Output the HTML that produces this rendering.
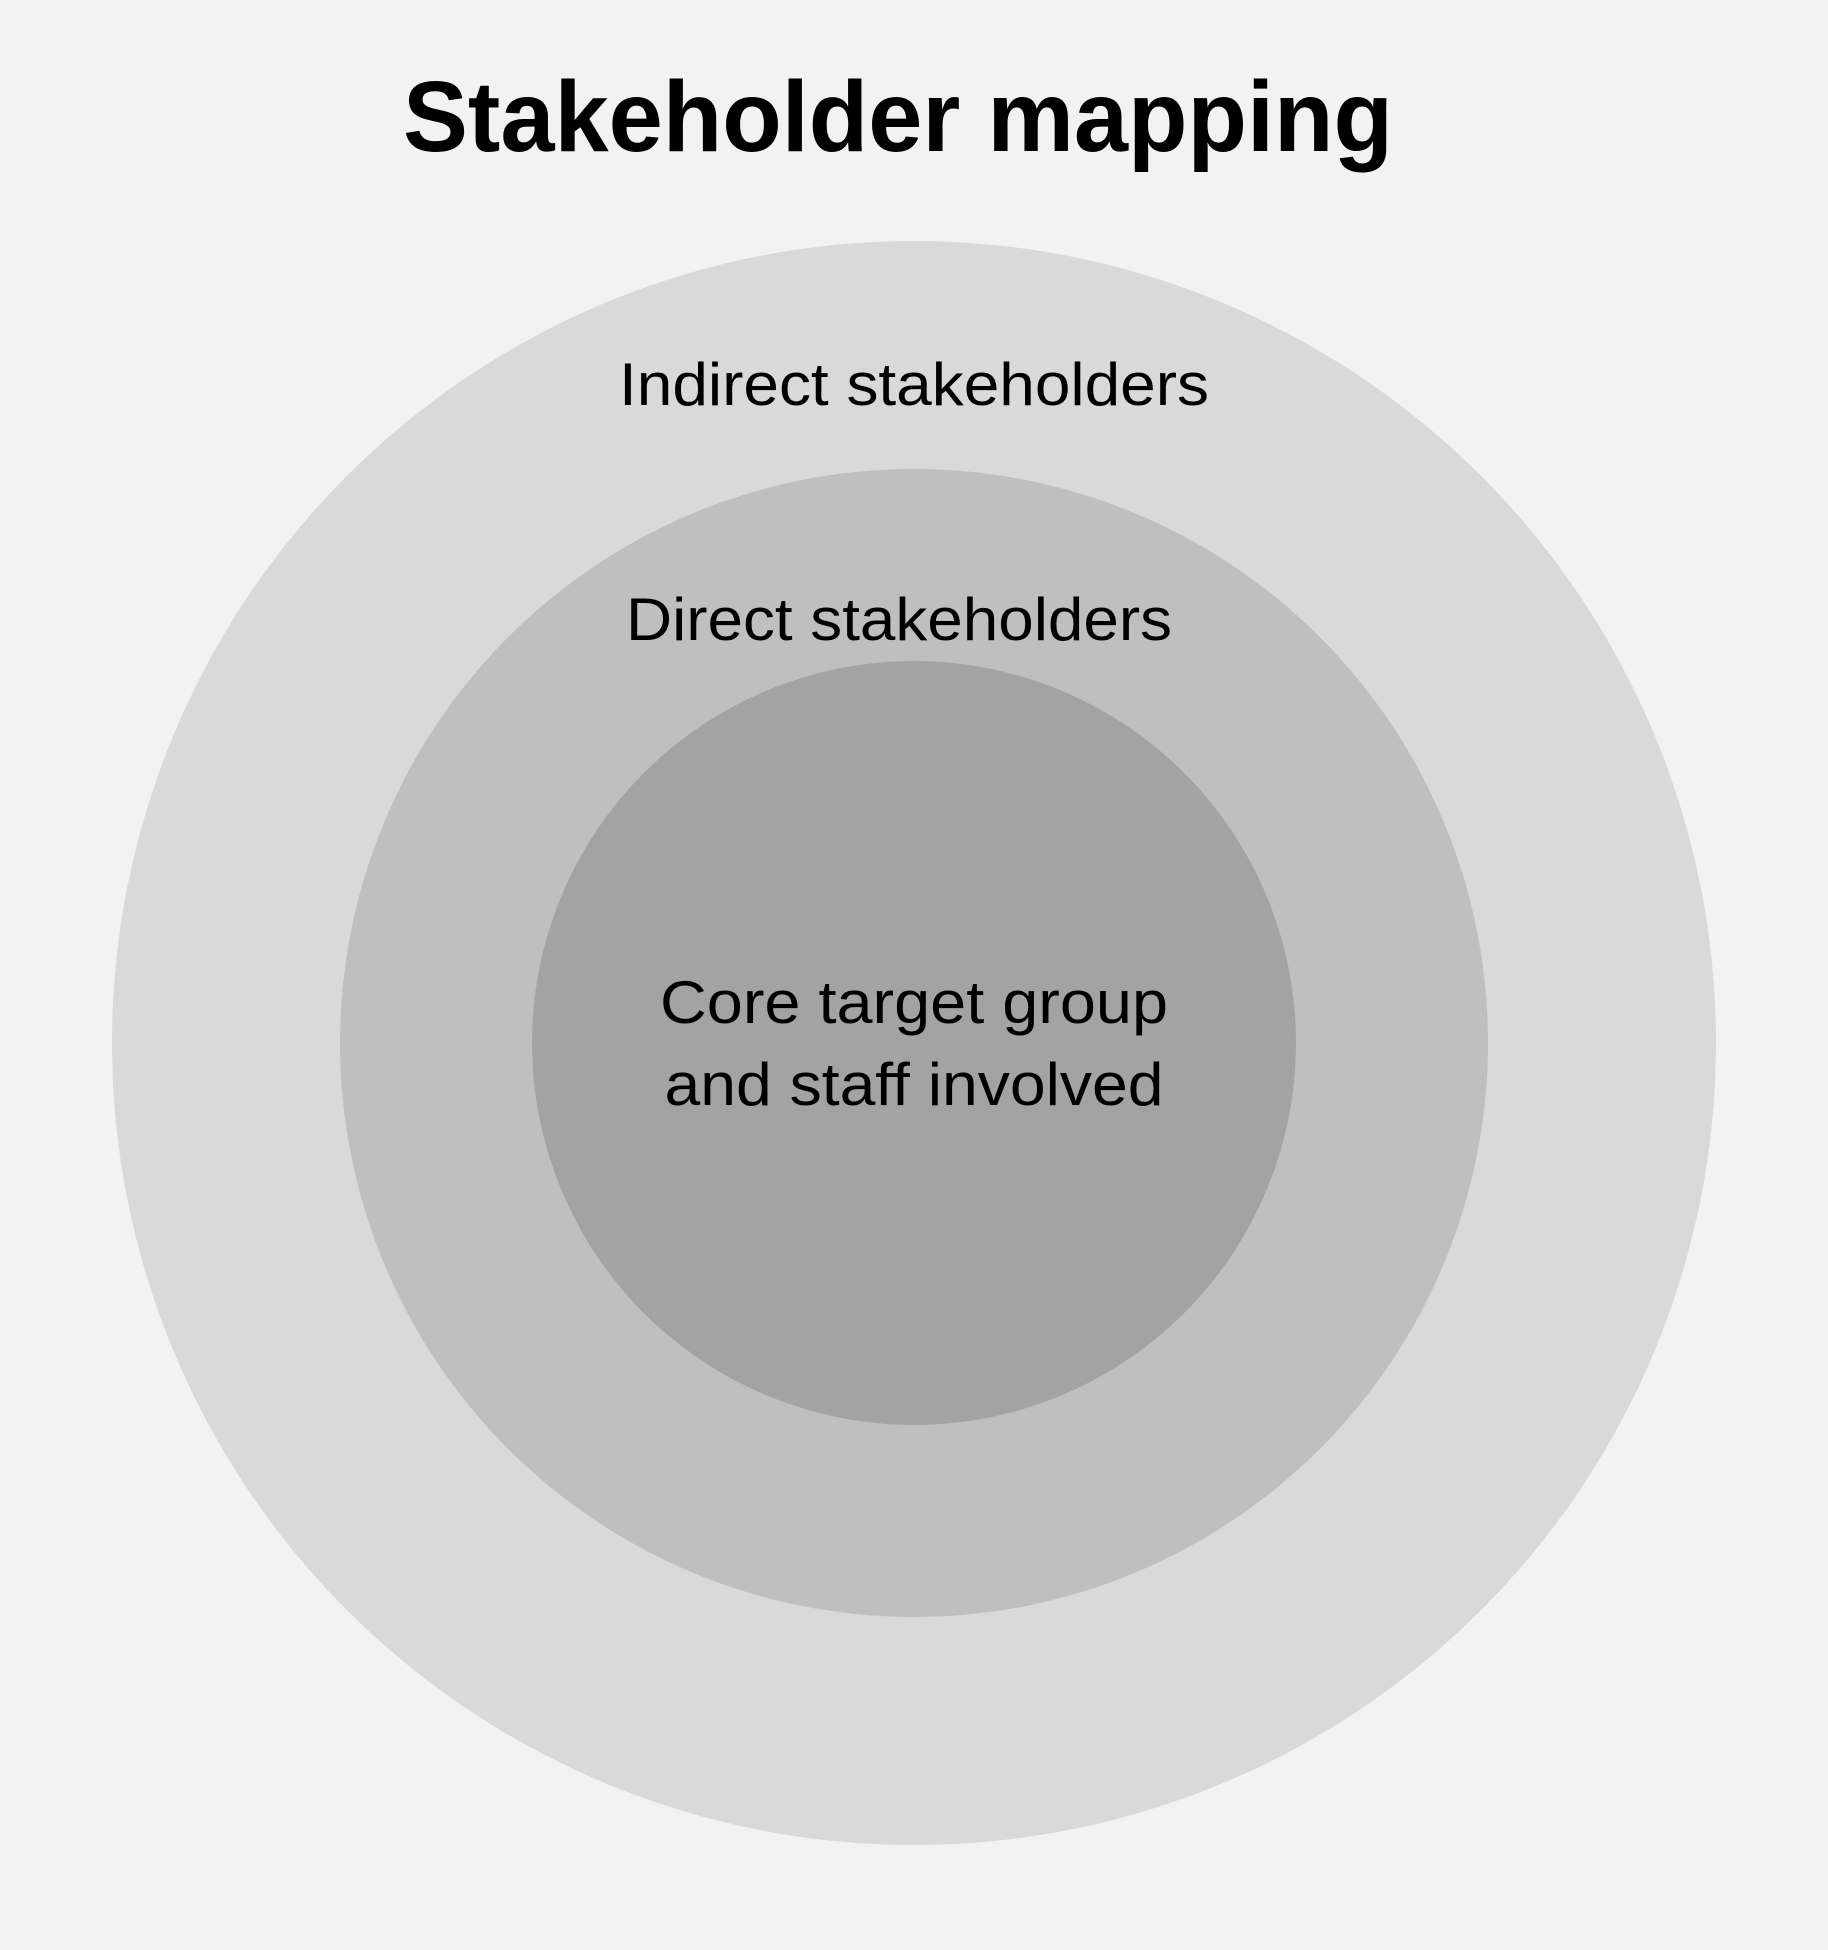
<!DOCTYPE html>
<html><head><meta charset="utf-8"><style>
html,body{margin:0;padding:0;background:#f2f2f2;}
svg{display:block;}
text{font-family:"Liberation Sans",sans-serif;fill:#000;}
</style></head><body>
<svg width="1828" height="1950" viewBox="0 0 1828 1950" xmlns="http://www.w3.org/2000/svg">
<rect width="1828" height="1950" fill="#f2f2f2"/>
<circle cx="914" cy="1043" r="802" fill="#d9d9d9"/>
<circle cx="914" cy="1043" r="574" fill="#bfbfbf"/>
<circle cx="914" cy="1043" r="382" fill="#a3a3a3"/>
<text x="898" y="151" text-anchor="middle" font-size="100" font-weight="bold" textLength="990" lengthAdjust="spacingAndGlyphs">Stakeholder mapping</text>
<text x="914" y="405" text-anchor="middle" font-size="60" textLength="590" lengthAdjust="spacingAndGlyphs">Indirect stakeholders</text>
<text x="899" y="640" text-anchor="middle" font-size="60" textLength="546" lengthAdjust="spacingAndGlyphs">Direct stakeholders</text>
<text x="914" y="1023" text-anchor="middle" font-size="60" textLength="508" lengthAdjust="spacingAndGlyphs">Core target group</text>
<text x="914" y="1105" text-anchor="middle" font-size="60" textLength="499" lengthAdjust="spacingAndGlyphs">and staff involved</text>
</svg>
</body></html>
